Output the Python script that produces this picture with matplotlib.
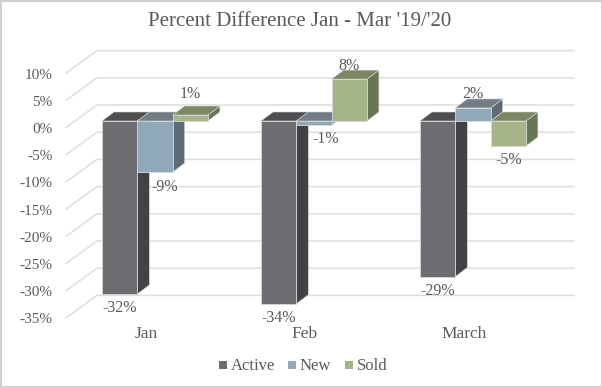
import matplotlib
matplotlib.use('Agg')
import matplotlib.pyplot as plt
from matplotlib.patches import Polygon, Rectangle

months = ['Jan', 'Feb', 'March']
series = ['Active', 'New', 'Sold']
active = [-31.8, -33.6, -28.6]
new = [-9.4, -0.7, 2.4]
sold = [1.1, 7.7, -4.6]
ticks = [10, 5, 0, -5, -10, -15, -20, -25, -30, -35]

front_col = ['#6d6c71', '#8fa8ba', '#a5b587']
top_col = ['#4f4e50', '#727d87', '#7a8762']
side_col = ['#434245', '#5c6b76', '#687556']

# label nudges (dx, dy) in pixels, same order as the bars
nudge = [[(0, 0), (10, 1), (0, -6)],
         [(0, 0), (12, 0), (0, 2)],
         [(0, 0), (0, 1), (0, 0)]]

plt.rcParams['font.family'] = ['Liberation Serif']
text_col = '#595959'
grid_col = '#dedede'

fig = plt.figure(figsize=(6.02, 3.87), dpi=100)
ax = fig.add_axes([0, 0, 1, 1])
ax.set_xlim(0, 602)
ax.set_ylim(387, 0)
ax.axis('off')

px_per_pct = 5.44
dx, dy = 12, -9


def bar_y(v):
    return 121 - v * px_per_pct


def draw_bar(x0, w, v, i):
    x1 = x0 + w
    y0, y1 = bar_y(0), bar_y(v)
    top = min(y0, y1)
    bot = max(y0, y1)
    ax.add_patch(Polygon([(x1, top), (x1 + dx, top + dy), (x1 + dx, bot + dy), (x1, bot)],
                         fc=side_col[i], ec='#d8d8d8', lw=0.4, zorder=3 + i))
    ax.add_patch(Polygon([(x0, top), (x0 + dx, top + dy), (x1 + dx, top + dy), (x1, top)],
                         fc=top_col[i], ec='#d8d8d8', lw=0.4, zorder=3 + i))
    ax.add_patch(Rectangle((x0, top), w, bot - top, fc=front_col[i], ec='#d8d8d8', lw=0.6, zorder=3 + i))


# frame
ax.add_patch(Rectangle((0.5, 0.5), 601, 386, fc='white', ec='#d0d0d0', lw=1.5, zorder=0))

# back wall grid and side wall diagonals
for t in ticks:
    yf = 127.5 - t * px_per_pct
    ax.plot([66, 97, 574], [yf, yf - 22.5, yf - 22.5], color=grid_col, lw=1.1, zorder=1)
    ax.text(52.5, yf + 2, f'{t}%', ha='right', va='center', fontsize=11, color=text_col)

bar_w = 35.3
group_x = [102, 261, 420]
values = [active, new, sold]
for m in range(len(months)):
    for s in range(len(series)):
        x0 = group_x[m] + s * bar_w
        v = values[s][m]
        draw_bar(x0, bar_w, v, s)
        nx, ny = nudge[m][s]
        yl = bar_y(v) + 14 if v < 0 else bar_y(v) - 15
        ax.text(x0 + bar_w / 2 + nx, yl + ny, f'{v:.0f}%', ha='center', va='center',
                fontsize=11.5, color=text_col, zorder=10)
    ax.text(group_x[m] + 44, 334.5, months[m], ha='center', va='center', fontsize=12.5, color=text_col)

ax.text(300, 21.5, "Percent Difference Jan - Mar '19/'20", ha='center', va='center',
        fontsize=15, color=text_col)

# legend
legend_x = [219, 288, 345]
for s in range(len(series)):
    ax.add_patch(Rectangle((legend_x[s], 361), 8, 8, fc=front_col[s], ec='none'))
    ax.text(legend_x[s] + 12, 365.5, series[s], ha='left', va='center', fontsize=12, color=text_col)

fig.savefig('out.png', dpi=100)
